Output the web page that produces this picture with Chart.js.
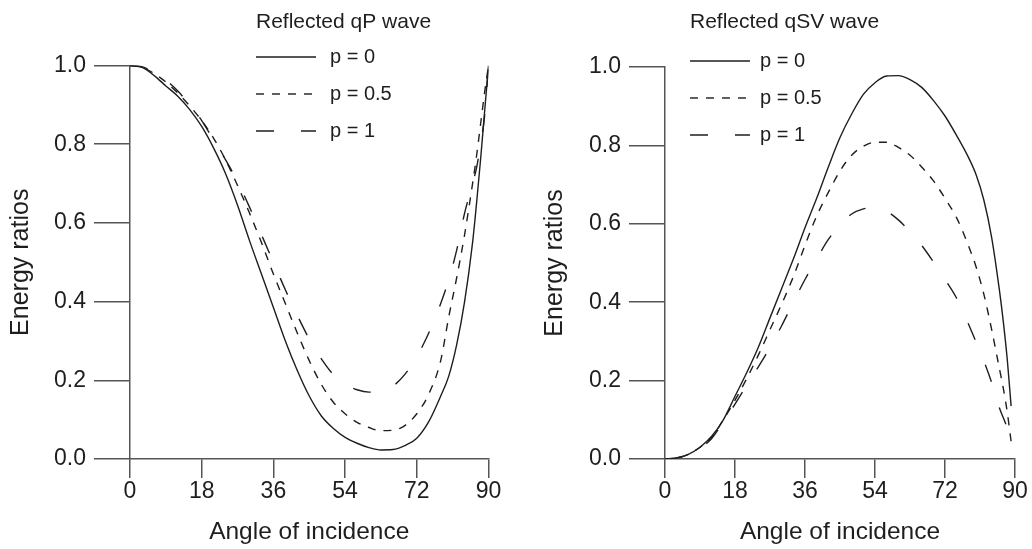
<!DOCTYPE html>
<html>
<head>
<meta charset="utf-8">
<script src="https://cdn.jsdelivr.net/npm/chart.js@4.4.0/dist/chart.umd.min.js"></script>
<style>
  html, body { margin: 0; padding: 0; background: #fff; }
  #wrap { position: relative; width: 1032px; height: 549px; }
  .box { position: absolute; top: 0; width: 516px; height: 549px; }
</style>
</head>
<body>
<div id="wrap">
  <div class="box" style="left:0"><canvas id="qpChart"></canvas></div>
  <div class="box" style="left:516px"><canvas id="svChart"></canvas></div>
</div>
<script>
// angles of incidence (degrees) and energy ratios
const qpAngles = [0, 3, 6, 9, 12, 15, 18, 21, 24, 27, 30, 33, 36, 39, 42, 45, 48, 51, 54, 57, 60, 63, 66, 69, 72, 75, 78, 80, 82, 84, 86, 87, 88, 89, 90];
const qpP0  = [1.0, 0.995, 0.975, 0.948, 0.922, 0.888, 0.845, 0.79, 0.725, 0.645, 0.555, 0.47, 0.385, 0.3, 0.225, 0.16, 0.11, 0.078, 0.055, 0.04, 0.029, 0.023, 0.024, 0.034, 0.053, 0.095, 0.16, 0.21, 0.29, 0.4, 0.55, 0.65, 0.76, 0.88, 1.0];
const qpP05 = [1.0, 0.996, 0.98, 0.958, 0.93, 0.897, 0.86, 0.815, 0.76, 0.695, 0.625, 0.55, 0.47, 0.395, 0.32, 0.25, 0.19, 0.145, 0.115, 0.093, 0.08, 0.072, 0.073, 0.085, 0.115, 0.165, 0.25, 0.36, 0.46, 0.57, 0.7, 0.77, 0.85, 0.93, 1.0];
const qpP1  = [1.0, 0.997, 0.983, 0.963, 0.935, 0.9, 0.86, 0.81, 0.76, 0.705, 0.64, 0.57, 0.5, 0.43, 0.365, 0.305, 0.255, 0.215, 0.19, 0.176, 0.17, 0.171, 0.185, 0.215, 0.26, 0.32, 0.395, 0.455, 0.53, 0.625, 0.7, 0.74, 0.8, 0.87, 1.0];

const svAngles = [0, 3, 6, 9, 12, 15, 18, 21, 24, 27, 30, 33, 36, 39, 42, 45, 48, 51, 54, 57, 60, 63, 66, 69, 72, 75, 78, 80, 82, 84, 86, 87, 88, 89];
const svP0  = [0, 0.003, 0.012, 0.03, 0.058, 0.1, 0.16, 0.22, 0.285, 0.36, 0.435, 0.51, 0.59, 0.665, 0.745, 0.82, 0.88, 0.93, 0.96, 0.977, 0.978, 0.968, 0.948, 0.915, 0.875, 0.825, 0.77, 0.725, 0.66, 0.565, 0.43, 0.35, 0.255, 0.135];
const svP05 = [0, 0.003, 0.012, 0.03, 0.055, 0.1, 0.15, 0.205, 0.265, 0.33, 0.395, 0.465, 0.545, 0.62, 0.68, 0.735, 0.775, 0.798, 0.808, 0.808, 0.795, 0.775, 0.745, 0.71, 0.665, 0.615, 0.545, 0.49, 0.42, 0.33, 0.23, 0.18, 0.12, 0.045];
const svP1  = [0, 0.003, 0.011, 0.028, 0.052, 0.095, 0.14, 0.188, 0.235, 0.285, 0.34, 0.4, 0.458, 0.51, 0.56, 0.598, 0.625, 0.638, 0.642, 0.632, 0.61, 0.58, 0.545, 0.503, 0.458, 0.41, 0.345, 0.298, 0.25, 0.195, 0.13, 0.105, 0.08, 0.055];

const seriesLabels = ['p = 0', 'p = 0.5', 'p = 1'];
const xTicks = [0, 18, 36, 54, 72, 90];
const yTicks = [0, 0.2, 0.4, 0.6, 0.8, 1.0];

const FONT = '"Liberation Sans", Arial, Helvetica, sans-serif';
const INK = '#1e1e1e';
const AXIS = '#555';
const dashes = [[], [8, 8], [18, 27]];

function toPoints(xs, ys) {
    return xs.map((x, i) => ({x: x, y: ys[i]}));
}

// title + legend drawn inside the plot, like the original figure
const sideLegend = {
    id: 'sideLegend',
    afterDraw(chart, args, opts) {
        const ctx = chart.ctx;
        ctx.save();
        ctx.fillStyle = INK;
        ctx.textBaseline = 'middle';
        ctx.textAlign = 'left';
        ctx.font = '21px ' + FONT;
        ctx.fillText(opts.title, opts.x, opts.titleY);
        ctx.font = '20px ' + FONT;
        chart.data.datasets.forEach((ds, i) => {
            const y = opts.rowY + i * opts.rowGap;
            ctx.beginPath();
            ctx.setLineDash(ds.borderDash);
            ctx.lineWidth = ds.borderWidth;
            ctx.strokeStyle = ds.borderColor;
            ctx.moveTo(opts.x, y);
            ctx.lineTo(opts.x + 60, y);
            ctx.stroke();
            ctx.setLineDash([]);
            ctx.fillText(ds.label, opts.x + opts.textGap, y);
        });
        ctx.restore();
    }
};

function makeChart(id, xs, series, legendOpts, box) {
    const datasets = series.map((ys, i) => ({
        label: seriesLabels[i],
        data: toPoints(xs, ys),
        borderColor: INK,
        borderWidth: 1.4,
        borderDash: dashes[i],
        pointRadius: 0,
        fill: false,
        cubicInterpolationMode: 'monotone'
    }));

    return new Chart(document.getElementById(id), {
        type: 'line',
        data: {datasets: datasets},
        options: {
            responsive: true,
            maintainAspectRatio: false,
            animation: false,
            layout: {padding: box.padding},
            plugins: {
                legend: {display: false},
                tooltip: {enabled: false},
                sideLegend: legendOpts
            },
            scales: {
                x: {
                    type: 'linear',
                    min: 0,
                    max: 90,
                    afterBuildTicks: s => { s.ticks = xTicks.map(v => ({value: v})); },
                    afterFit: s => { s.height = 90; },
                    ticks: {color: INK, font: {family: FONT, size: 23}, padding: 0, maxRotation: 0},
                    grid: {drawOnChartArea: false, tickLength: 19, color: AXIS, lineWidth: 1.5},
                    border: {color: AXIS, width: 1.5},
                    title: {
                        display: true,
                        text: 'Angle of incidence',
                        color: INK,
                        font: {family: FONT, size: 24.5},
                        padding: {top: 0, bottom: 2}
                    }
                },
                y: {
                    min: 0,
                    max: 1,
                    afterBuildTicks: s => { s.ticks = yTicks.map(v => ({value: v})); },
                    afterFit: s => { s.width = box.yWidth; },
                    ticks: {
                        color: INK,
                        font: {family: FONT, size: 23},
                        padding: 8,
                        callback: v => v.toFixed(1)
                    },
                    grid: {drawOnChartArea: false, tickLength: 36, color: AXIS, lineWidth: 1.5},
                    border: {color: AXIS, width: 1.5},
                    title: {
                        display: true,
                        text: 'Energy ratios',
                        color: INK,
                        font: {family: FONT, size: 25},
                        padding: {top: box.yTitlePad, bottom: 0}
                    }
                }
            }
        },
        plugins: [sideLegend]
    });
}

makeChart('qpChart', qpAngles, [qpP0, qpP05, qpP1],
    {title: 'Reflected qP wave', x: 256, titleY: 22, rowY: 57, rowGap: 37, textGap: 74},
    {padding: {left: 0, right: 27.5, top: 65.5, bottom: 0}, yWidth: 130, yTitlePad: 6});

makeChart('svChart', svAngles, [svP0, svP05, svP1],
    {title: 'Reflected qSV wave', x: 174, titleY: 22, rowY: 61, rowGap: 37, textGap: 70},
    {padding: {left: 0, right: 17, top: 67, bottom: 0}, yWidth: 149, yTitlePad: 24});
</script>
</body>
</html>
